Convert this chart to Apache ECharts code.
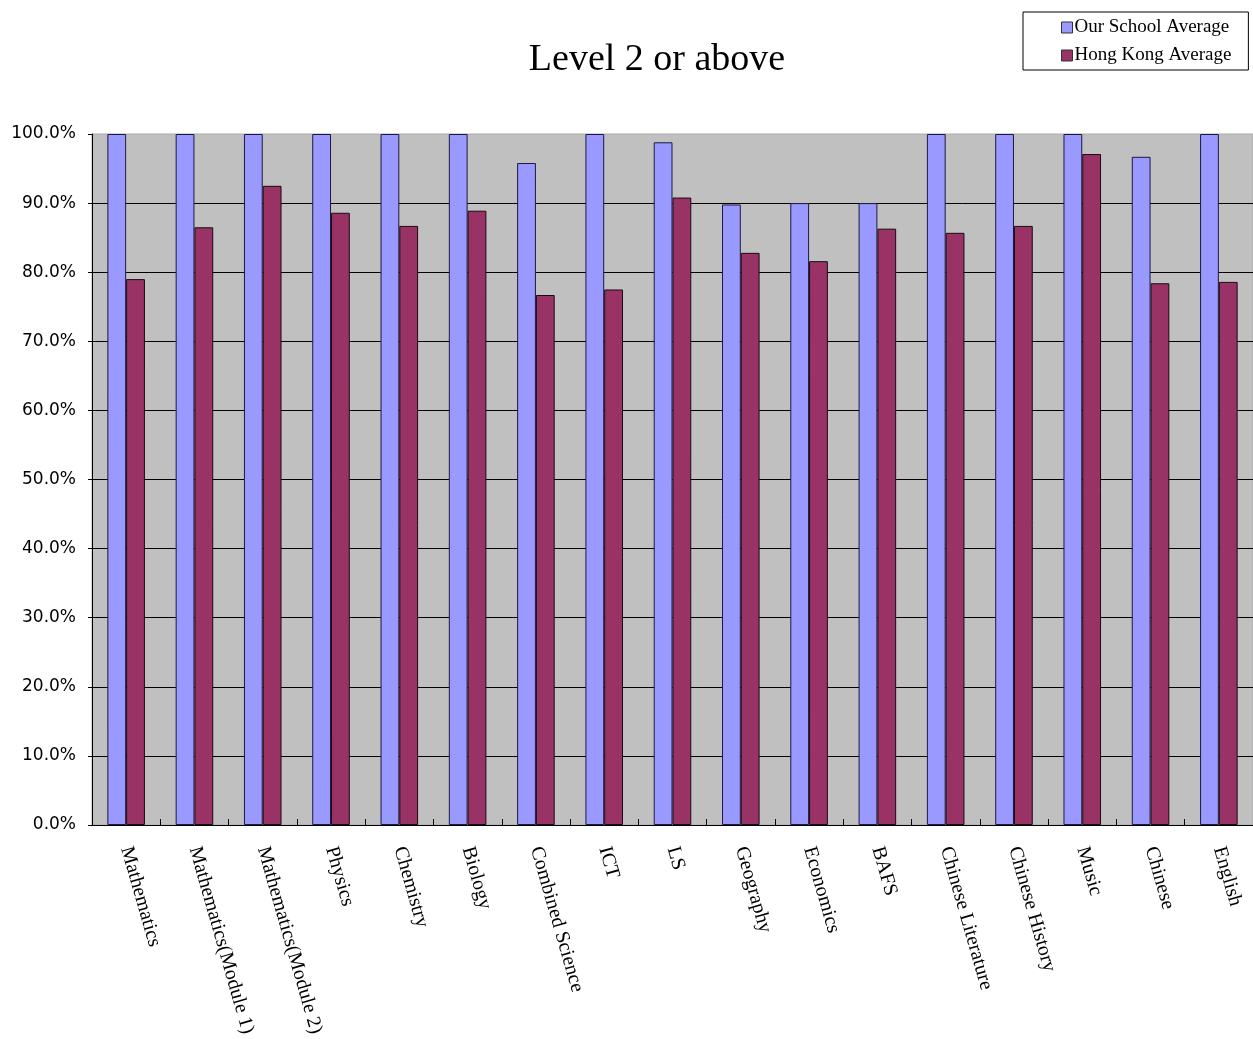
<!DOCTYPE html>
<html>
<head>
<meta charset="utf-8">
<script src="https://cdn.jsdelivr.net/npm/echarts@6/dist/echarts.min.js"></script>
<style>
  html, body { margin: 0; padding: 0; background: #fff; }
  #chart { width: 1253px; height: 1039px; }
</style>
</head>
<body>
<div id="chart"></div>
<script>
// subjects along the x axis
const subjects = ['Mathematics', 'Mathematics(Module 1)', 'Mathematics(Module 2)', 'Physics', 'Chemistry',
  'Biology', 'Combined Science', 'ICT', 'LS', 'Geography', 'Economics', 'BAFS',
  'Chinese Literature', 'Chinese History', 'Music', 'Chinese', 'English'];

// percentage at level 2 or above
const schoolAvg = [100, 100, 100, 100, 100, 100, 95.8, 100, 98.8, 89.8, 90.0, 90.0, 100, 100, 100, 96.7, 100];
const hkAvg = [79.0, 86.5, 92.5, 88.6, 86.7, 88.9, 76.7, 77.5, 90.8, 82.8, 81.6, 86.3, 85.7, 86.7, 97.1, 78.4, 78.6];

const yTicks = [0, 10, 20, 30, 40, 50, 60, 70, 80, 90, 100];

const chart = echarts.init(document.getElementById('chart'));
chart.setOption({
    animation: false,
    title: {
        text: 'Level 2 or above',
        left: 652,
        top: 36,
        textAlign: 'center',
        textStyle: { fontFamily: 'Liberation Serif', fontSize: 38, fontWeight: 'normal', color: '#000' }
    },
    legend: {
        left: 1023,
        top: 12,
        orient: 'vertical',
        itemWidth: 11,
        itemHeight: 11,
        itemGap: 9,
        padding: [6, 17, 5, 38],
        borderColor: '#000',
        borderWidth: 1,
        backgroundColor: '#fff',
        icon: 'rect',
        textStyle: { fontFamily: 'Liberation Serif', fontSize: 19, color: '#000', padding: [0, 0, 0, -3] },
        data: [
            { name: 'Our School Average', itemStyle: { borderColor: '#333', borderWidth: 1 } },
            { name: 'Hong Kong Average', itemStyle: { borderColor: '#333', borderWidth: 1 } }
        ]
    },
    grid: {
        left: 92,
        top: 134,
        right: 0,
        bottom: 213,
        show: true,
        backgroundColor: '#c0c0c0',
        borderColor: '#aaa',
        borderWidth: 1
    },
    xAxis: {
        type: 'category',
        data: subjects,
        axisLine: { lineStyle: { color: '#000', width: 1 } },
        axisTick: { show: true, inside: true, length: 6, lineStyle: { color: '#000' } },
        axisLabel: {
            interval: 0,
            rotate: -74,
            margin: 22,
            fontFamily: 'Liberation Serif',
            fontSize: 20,
            color: '#000'
        }
    },
    yAxis: {
        type: 'value',
        min: yTicks[0],
        max: yTicks[yTicks.length - 1],
        interval: 10,
        axisLine: { show: true, lineStyle: { color: '#000' } },
        axisTick: { show: true, length: 4, lineStyle: { color: '#000' } },
        splitLine: { showMaxLine: false, lineStyle: { color: '#000', width: 1 } },
        axisLabel: {
            margin: 16,
            fontFamily: 'DejaVu Sans',
            fontSize: 17,
            color: '#000',
            formatter: v => v.toFixed(1) + '%'
        }
    },
    series: [
        {
            name: 'Our School Average',
            type: 'bar',
            data: schoolAvg,
            barGap: '0%',
            barCategoryGap: '45%',
            itemStyle: { color: '#9999ff', borderColor: '#1a1a40', borderWidth: 1 }
        },
        {
            name: 'Hong Kong Average',
            type: 'bar',
            data: hkAvg,
            itemStyle: { color: '#993366', borderColor: '#1a0a10', borderWidth: 1 }
        }
    ]
});
</script>
</body>
</html>
